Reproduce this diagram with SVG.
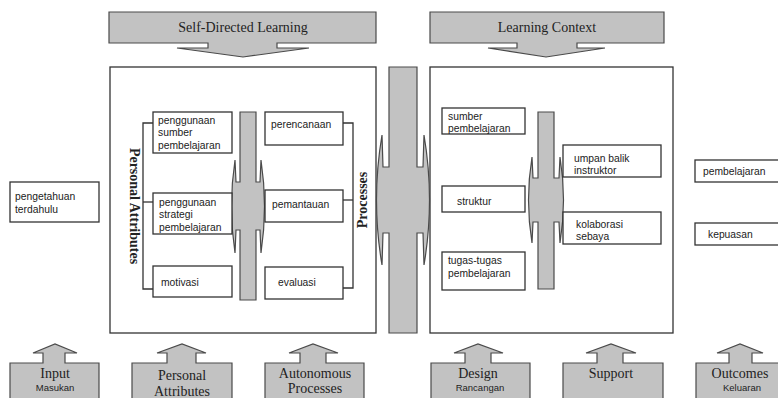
<svg xmlns="http://www.w3.org/2000/svg" width="778" height="398" viewBox="0 0 778 398">
<style>
.g{fill:#c2c2c2;stroke:#4a4a4a;stroke-width:1.2}
.b{fill:#fff;stroke:#333;stroke-width:1.3}
.p{fill:none;stroke:#333;stroke-width:1.3}
.t{font-family:"Liberation Sans",Arial,sans-serif;font-size:10.3px;fill:#222}
.s{font-family:"Liberation Serif","Times New Roman",serif;font-size:14px;fill:#222}
.v{font-family:"Liberation Serif","Times New Roman",serif;font-size:14px;font-weight:bold;fill:#222}
.m{font-family:"Liberation Sans",Arial,sans-serif;font-size:9.5px;fill:#222}
</style>
<rect width="778" height="398" fill="#fff"/>

<g id="header-sdl">
<polygon class="g" points="109,12 376,12 376,43 277,43 277,48 309,48 243,57 177,48 208,48 208,43 109,43"/>
<text class="s" x="243" y="32" text-anchor="middle">Self-Directed Learning</text>
</g>
<g id="header-lc">
<polygon class="g" points="430,12 664,12 664,43 577,43 577,48 605,48 546,57 488,48 517,48 517,43 430,43"/>
<text class="s" x="547" y="32" text-anchor="middle">Learning Context</text>
</g>

<g id="panel-left"><rect class="b" x="110" y="67" width="266" height="266"/></g>
<g id="panel-right"><rect class="b" x="430" y="67" width="243" height="266"/></g>

<g id="connectors">
<path class="g" d="M389,67 H417 V167 H423 L424,135 Q435,200 424,265 L423,233 H417 V333 H389 V233 H383 L382,265 Q371,200 382,135 L383,167 H389 Z"/>
<path class="g" d="M240,112 H256 V182 H260 L261,160 Q268,206 261,253 L260,230 H256 V300 H240 V230 H236 L235,253 Q228,206 235,160 L236,182 H240 Z"/>
<path class="g" d="M538,112 H554 V178 H559 L560,157 Q567,200 560,243 L559,222 H554 V289 H538 V222 H533 L532,243 Q525,200 532,157 L533,178 H538 Z"/>
<polyline class="p" points="153,123 143,123 143,289 153,289"/>
<line class="p" x1="143" y1="202" x2="153" y2="202"/>
<polyline class="p" points="343,123 353,123 353,288 343,288"/>
<line class="p" x1="343" y1="200" x2="353" y2="200"/>
</g>

<g id="label-personal-attributes"><text class="v" transform="translate(130,206) rotate(90)" text-anchor="middle">Personal Attributes</text></g>
<g id="label-processes"><text class="v" transform="translate(367,200) rotate(-90)" text-anchor="middle">Processes</text></g>

<g id="n-pengetahuan"><rect class="b" x="10" y="182" width="89" height="40"/>
<text class="t" x="15" y="200">pengetahuan</text><text class="t" x="15" y="213">terdahulu</text></g>

<g id="n-sumber"><rect class="b" x="153" y="112" width="79" height="41"/>
<text class="t" x="158" y="123.5">penggunaan</text><text class="t" x="158" y="136">sumber</text><text class="t" x="158" y="148.5">pembelajaran</text></g>
<g id="n-strategi"><rect class="b" x="153" y="193" width="79" height="41"/>
<text class="t" x="159" y="205.5">penggunaan</text><text class="t" x="159" y="218">strategi</text><text class="t" x="159" y="230.5">pembelajaran</text></g>
<g id="n-motivasi"><rect class="b" x="153" y="266" width="79" height="31"/>
<text class="t" x="161" y="285.5">motivasi</text></g>

<g id="n-perencanaan"><rect class="b" x="265" y="112" width="78" height="33"/>
<text class="t" x="271" y="127.5">perencanaan</text></g>
<g id="n-pemantauan"><rect class="b" x="265" y="190" width="78" height="32"/>
<text class="t" x="272" y="207.5">pemantauan</text></g>
<g id="n-evaluasi"><rect class="b" x="265" y="267" width="78" height="32"/>
<text class="t" x="278" y="285.5">evaluasi</text></g>

<g id="n-sumber-pembelajaran"><rect class="b" x="442" y="108" width="83" height="26"/>
<text class="t" x="448" y="119.5">sumber</text><text class="t" x="448" y="132">pembelajaran</text></g>
<g id="n-struktur"><rect class="b" x="442" y="186" width="83" height="26"/>
<text class="t" x="457" y="204.5">struktur</text></g>
<g id="n-tugas"><rect class="b" x="442" y="252" width="83" height="38"/>
<text class="t" x="448" y="263.5">tugas-tugas</text><text class="t" x="448" y="276.5">pembelajaran</text></g>
<g id="n-umpan"><rect class="b" x="563" y="145" width="98" height="32"/>
<text class="t" x="574" y="161.5">umpan balik</text><text class="t" x="574" y="173.5">instruktor</text></g>
<g id="n-kolaborasi"><rect class="b" x="563" y="212" width="98" height="32"/>
<text class="t" x="576" y="227.5">kolaborasi</text><text class="t" x="576" y="239.5">sebaya</text></g>

<g id="n-pembelajaran"><rect class="b" x="695" y="160" width="90" height="22"/>
<text class="t" x="703" y="174.5">pembelajaran</text></g>
<g id="n-kepuasan"><rect class="b" x="695" y="223" width="90" height="22"/>
<text class="t" x="708" y="238">kepuasan</text></g>

<g id="f-input"><polygon class="g" points="10,400 10,363 43,363 43,353 33,353 55,344 77,353 65,353 65,363 99,363 99,400"/>
<text class="s" x="55" y="378" text-anchor="middle">Input</text><text class="m" x="55" y="391" text-anchor="middle">Masukan</text></g>
<g id="f-personal"><polygon class="g" points="132,400 132,363 167,363 167,353 157,353 182,344 206,353 196,353 196,363 232,363 232,400"/>
<text class="s" x="182" y="380" text-anchor="middle">Personal</text><text class="s" x="182" y="396" text-anchor="middle">Attributes</text></g>
<g id="f-autonomous"><polygon class="g" points="265,400 265,363 300,363 300,353 289,353 313,344 338,353 326,353 326,363 364,363 364,400"/>
<text class="s" x="315" y="378" text-anchor="middle">Autonomous</text><text class="s" x="315" y="393" text-anchor="middle">Processes</text></g>
<g id="f-design"><polygon class="g" points="431,400 431,363 465,363 465,353 454,353 478,344 503,353 491,353 491,363 530,363 530,400"/>
<text class="s" x="478" y="378" text-anchor="middle">Design</text><text class="m" x="480" y="391" text-anchor="middle">Rancangan</text></g>
<g id="f-support"><polygon class="g" points="563,400 563,363 597,363 597,353 586,353 611,344 636,353 623,353 623,363 663,363 663,400"/>
<text class="s" x="611" y="378" text-anchor="middle">Support</text></g>
<g id="f-outcomes"><polygon class="g" points="696,400 696,363 729,363 729,353 717,353 740,344 763,353 752,353 752,363 790,363 790,400"/>
<text class="s" x="740" y="378" text-anchor="middle">Outcomes</text><text class="m" x="742" y="391" text-anchor="middle">Keluaran</text></g>
</svg>
